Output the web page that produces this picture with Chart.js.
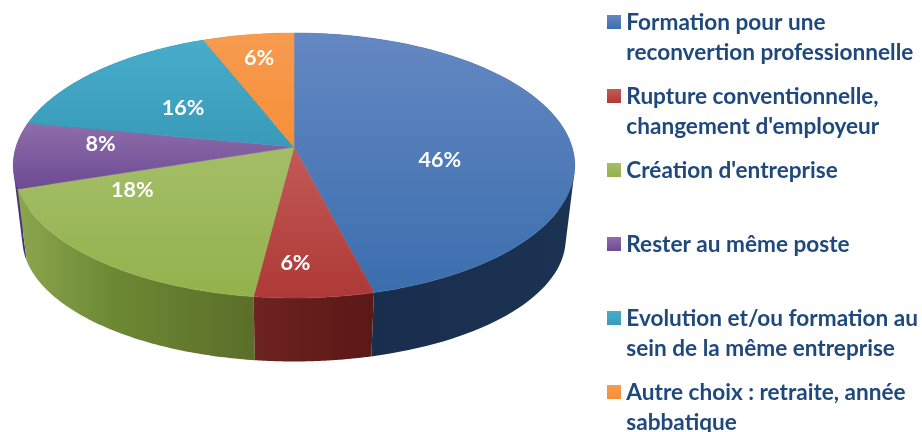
<!DOCTYPE html>
<html><head><meta charset="utf-8">
<style>html,body{margin:0;padding:0;background:#fff}canvas{display:block}</style>
<script src="https://cdn.jsdelivr.net/npm/chart.js@4"></script></head>
<body><canvas id="c" width="922" height="432"></canvas>
<script>
const categories = ["Formation pour une|reconvertion professionnelle","Rupture conventionnelle,|changement d'employeur","Création d'entreprise|","Rester au même poste|","Evolution et/ou formation au|sein de la même entreprise","Autre choix : retraite, année|sabbatique"];
const values = [46,6,18,8,16,6];
const topFrom = ["#6488c2","#c25a58","#a4be68","#8f6dab","#46adca","#f79b50"];
const topTo   = ["#3b6eae","#ae3936","#93b24c","#6d4a92","#399ab9","#f58f38"];
const wallFrom = ["#172a49","#6e2421","#8ca64f","#4a3a7c","#1d5a6e","#a85f1c"];
const wallMid  = ["#1a2f4f","#661e1c","#6d8833","#443476","#1d5a6e","#a85f1c"];
const wallTo   = ["#1b3252","#5a1816","#5a6e29","#3f3070","#1d5a6e","#a85f1c"];
const labelNudge = [[-18,23],[-10,31],[-48,-21],[-26,-8],[11,8],[-6,-18]];

const K = 0.1396;
const topRim = {x0:294, y0:147, a:278, b:129.9};
const baseRim = {x0:294, y0:222, a:269, b:120};
function project(r, ang, f){
  const u = Math.sin(ang)*f, v = -Math.cos(ang)*f, w = 1 - K*v;
  return [r.x0 + r.a*u/w, r.y0 + r.b*v/w];
}
const pie3d = {
  id:'pie3d',
  afterLayout(chart){ chart.legend.left = 600; chart.legend.top = -2; },
  beforeDatasetDraw(chart, args){
    const ctx = chart.ctx, arcs = args.meta.data;
    const toClock = a => a + Math.PI/2;           // Chart.js angle 0 = 3 o'clock
    const slices = arcs.map((arc,i)=>({i, s:toClock(arc.startAngle), e:toClock(arc.endAngle)}));
    const order = slices.slice().sort((p,q)=>(-Math.cos((p.s+p.e)/2))-(-Math.cos((q.s+q.e)/2)));
    const N = 90;
    order.forEach(({i,s,e})=>{
      const pts=[], pts2=[];
      for(let k=0;k<=N;k++){const t=s+(e-s)*k/N; pts.push(project(topRim,t,1)); pts2.push(project(baseRim,t,1));}
      const xs = pts.concat(pts2).map(p=>p[0]);
      const xL=Math.min(...xs), xR=Math.max(...xs);
      const g = ctx.createLinearGradient(xL,0,xR,0);
      g.addColorStop(0,wallFrom[i]); g.addColorStop(0.4,wallMid[i]); g.addColorStop(1,wallTo[i]);
      // the wall is the union of ruled quads, each wound the same way
      ctx.beginPath();
      for(let k=0;k<N;k++){
        let q=[pts[k],pts[k+1],pts2[k+1],pts2[k]];
        let area=0;
        q.forEach((p,j)=>{const n=q[(j+1)%4]; area+=p[0]*n[1]-n[0]*p[1];});
        if(area<0) q=q.slice().reverse();
        q.forEach((p,j)=>j?ctx.lineTo(p[0],p[1]):ctx.moveTo(p[0],p[1]));
        ctx.closePath();
      }
      ctx.fillStyle=g; ctx.fill('nonzero');
    });
    slices.forEach(({i,s,e})=>{
      const ys=[topRim.y0];
      ctx.beginPath(); ctx.moveTo(topRim.x0,topRim.y0);
      for(let k=0;k<=N;k++){const p=project(topRim,s+(e-s)*k/N,1); ys.push(p[1]); ctx.lineTo(p[0],p[1]);}
      ctx.closePath();
      const g = ctx.createLinearGradient(0,Math.min(...ys),0,Math.max(...ys));
      g.addColorStop(0,topFrom[i]); g.addColorStop(1,topTo[i]);
      ctx.fillStyle=g; ctx.fill();
      ctx.strokeStyle=g; ctx.lineWidth=0.5; ctx.stroke();
    });
    ctx.fillStyle='#fff'; ctx.font='bold 21.5px Lato'; ctx.textAlign='center'; ctx.textBaseline='middle';
    slices.forEach(({i,s,e})=>{
      const p=project(topRim,(s+e)/2,0.6);
      ctx.fillText(values[i]+'%',p[0]+labelNudge[i][0],p[1]+labelNudge[i][1]);
    });
    return false;
  }
};
function swatch(i){
  const c=document.createElement('canvas'); c.width=14; c.height=14;
  const x=c.getContext('2d'), g=x.createLinearGradient(0,0,0,14);
  g.addColorStop(0,topFrom[i]); g.addColorStop(1,topTo[i]);
  x.fillStyle=g; x.fillRect(0,0,14,14); return c;
}
new Chart(document.getElementById('c'),{
  type:'pie',
  data:{labels:categories,datasets:[{data:values,backgroundColor:topTo,borderWidth:0}]},
  plugins:[pie3d],
  options:{
    responsive:false,animation:false,
    layout:{padding:{right:4,top:0,bottom:0}},
    plugins:{
      tooltip:{enabled:false},
      legend:{
        position:'right',align:'start',
        labels:{
          color:'#1f497d',padding:13,boxWidth:2,boxHeight:14,usePointStyle:true,pointStyleWidth:2,
          font:{family:'Lato',size:22.6,weight:'bold',lineHeight:1.35},
          generateLabels(){return categories.map((t,i)=>{
            const parts=t.split('|');
            return {text:parts,fillStyle:topTo[i],strokeStyle:topTo[i],lineWidth:0,pointStyle:swatch(i),fontColor:'#1f497d',index:i};
          });}
        }
      }
    }
  }
});
</script></body></html>
